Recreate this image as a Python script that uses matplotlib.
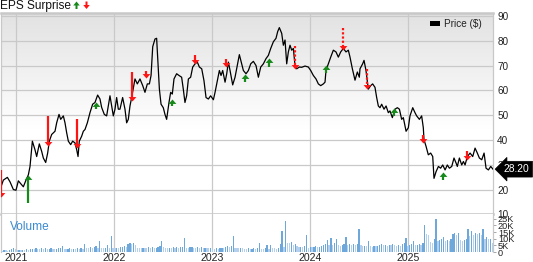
import numpy as np
import matplotlib
matplotlib.use("Agg")
import matplotlib.pyplot as plt
from matplotlib.colors import LinearSegmentedColormap
from matplotlib.patches import FancyArrow, Rectangle
from matplotlib.transforms import blended_transform_factory

plt.rcParams['font.family'] = ['Liberation Sans', 'DejaVu Sans']

# ---------------- data ----------------
price_t = [2020.847, 2020.871, 2020.912, 2020.939, 2020.973, 2021.000, 2021.024, 2021.048, 2021.075, 2021.102,
           2021.126, 2021.143, 2021.167, 2021.194, 2021.211, 2021.238, 2021.262, 2021.279, 2021.303, 2021.323,
           2021.340, 2021.364, 2021.398, 2021.415, 2021.439, 2021.456, 2021.483, 2021.500, 2021.517, 2021.534,
           2021.558, 2021.578, 2021.602, 2021.619, 2021.633, 2021.646, 2021.670, 2021.687, 2021.704, 2021.728,
           2021.755, 2021.782, 2021.806, 2021.833, 2021.857, 2021.874, 2021.901, 2021.925, 2021.942, 2021.959,
           2021.976, 2021.993, 2022.010, 2022.027, 2022.044,
           2022.061, 2022.088, 2022.112, 2022.129, 2022.146, 2022.163, 2022.180, 2022.214, 2022.238, 2022.265,
           2022.293, 2022.316, 2022.340, 2022.361, 2022.378, 2022.395, 2022.418, 2022.435, 2022.446, 2022.463,
           2022.480, 2022.503, 2022.520, 2022.537, 2022.561, 2022.578, 2022.595, 2022.612, 2022.639, 2022.663,
           2022.690, 2022.707, 2022.724, 2022.741, 2022.759, 2022.782, 2022.803, 2022.827, 2022.850, 2022.871,
           2022.895, 2022.918, 2022.939, 2022.963, 2022.986, 2023.014, 2023.031, 2023.054, 2023.075, 2023.092,
           2023.109, 2023.133, 2023.150, 2023.167, 2023.184, 2023.211, 2023.235, 2023.259, 2023.279,
           2023.303, 2023.320, 2023.347, 2023.371, 2023.395, 2023.422, 2023.449, 2023.473, 2023.497, 2023.524,
           2023.551, 2023.575, 2023.599, 2023.626, 2023.653, 2023.670, 2023.687, 2023.711, 2023.728, 2023.745,
           2023.762, 2023.779, 2023.796, 2023.813, 2023.830, 2023.847, 2023.864, 2023.891, 2023.915, 2023.949,
           2023.983, 2024.007, 2024.034, 2024.061, 2024.085, 2024.109, 2024.136, 2024.153, 2024.163, 2024.187,
           2024.211, 2024.238, 2024.265, 2024.289, 2024.313, 2024.340, 2024.367, 2024.391, 2024.408, 2024.432,
           2024.459, 2024.483, 2024.503,
           2024.510, 2024.537, 2024.551, 2024.571, 2024.595, 2024.619, 2024.639, 2024.663, 2024.680, 2024.697,
           2024.714, 2024.731, 2024.755, 2024.776, 2024.799, 2024.816, 2024.840, 2024.867, 2024.891, 2024.912,
           2024.935, 2024.952, 2024.980, 2025.003, 2025.020, 2025.048, 2025.071, 2025.088, 2025.116, 2025.139,
           2025.156, 2025.163, 2025.184, 2025.207, 2025.231, 2025.252, 2025.265, 2025.286, 2025.310, 2025.333,
           2025.354, 2025.378, 2025.401, 2025.422, 2025.446, 2025.469, 2025.490, 2025.503, 2025.524, 2025.548,
           2025.565, 2025.582, 2025.605, 2025.633, 2025.660, 2025.684, 2025.707, 2025.728, 2025.752, 2025.776,
           2025.796, 2025.820, 2025.844, 2025.867]

price = [21.1, 23.8, 24.9, 23.1, 20.0, 19.7, 23.5, 22.4, 21.1, 23.8,
         25.9, 29.3, 39.5, 36.0, 33.3, 38.4, 35.4, 32.7, 30.9, 34.7,
         39.5, 42.2, 43.5, 46.9, 50.3, 48.3, 49.7, 46.9, 42.9, 39.5,
         38.1, 39.5, 38.8, 36.1, 33.3, 39.5, 41.5, 43.5, 44.2, 46.9,
         51.0, 54.4, 55.1, 58.1, 56.5, 53.1, 50.3, 49.7, 53.7, 57.8,
         53.7, 49.7, 52.4, 57.1, 52.4,
         52.4, 57.1, 52.4, 46.9, 48.3, 53.7, 57.1, 64.6, 62.6, 64.6,
         61.9, 59.2, 62.6, 62.6, 66.0, 77.6, 80.7, 81.0, 72.8, 60.5,
         54.4, 53.0, 50.3, 48.3, 55.1, 59.2, 58.5, 64.6, 66.7, 66.0,
         65.3, 60.5, 55.1, 57.8, 64.6, 65.3, 69.4, 70.7, 71.4, 69.4,
         68.7, 63.9, 57.1, 56.5, 57.8, 56.2, 59.2, 63.9, 68.0, 66.0,
         68.0, 63.3, 66.7, 71.4, 68.0, 62.2, 65.3, 70.3, 74.4,
         70.7, 68.0, 66.7, 68.0, 70.7, 71.7, 70.0, 65.3, 69.4, 70.7,
         72.8, 74.1, 76.9, 79.6, 81.0, 83.7, 85.3, 83.0, 78.2, 80.3,
         70.7, 75.5, 78.2, 76.2, 76.9, 70.0, 68.7, 69.4, 69.3, 69.8,
         69.4, 68.0, 66.0, 64.6, 62.6, 61.9, 62.6, 63.3, 68.0, 70.7,
         73.4, 76.2, 75.5, 73.4, 75.5, 76.9, 75.5, 76.2, 73.4, 68.7,
         64.1, 67.4, 65.3,
         68.7, 70.7, 72.1, 68.0, 60.5, 61.9, 62.6, 61.2, 57.1, 53.7,
         53.0, 54.4, 52.4, 53.7, 51.0, 51.7, 49.0, 52.4, 53.0, 52.4,
         48.3, 49.0, 43.5, 44.9, 49.7, 53.0, 51.0, 49.7, 48.3, 49.7,
         44.9, 40.1, 37.4, 34.0, 34.7, 33.3, 24.5, 27.2, 29.3, 28.6,
         29.9, 27.9, 29.9, 28.6, 29.3, 32.7, 30.7, 29.3, 32.7, 29.9,
         31.3, 29.9, 33.3, 34.7, 33.3, 36.7, 34.7, 32.7, 32.0, 34.7,
         28.6, 27.9, 29.3, 28.2]

last_price = 28.20

# EPS surprise arrows: date, direction, tail price, tip price, dotted shaft
eps_t = [2020.850, 2021.126, 2021.330, 2021.620, 2021.820, 2022.180, 2022.330, 2022.590, 2022.830, 2023.140,
         2023.337, 2023.585, 2023.847, 2024.163, 2024.340, 2024.585, 2024.857, 2025.156, 2025.354, 2025.605]
eps_dir = ['down', 'up', 'down', 'down', 'up', 'down', 'down', 'up', 'down', 'down',
           'up', 'up', 'down', 'up', 'down', 'down', 'up', 'down', 'up', 'down']
eps_tail = [27.9, 14.5, 49.7, 48.3, 52.4, 67.3, 68.0, 53.5, 74.1, 72.8,
            63.5, 69.5, 78.0, 67.0, 85.3, 68.7, 49.7, 41.8, 23.8, 35.4]
eps_tip = [17.0, 26.0, 37.7, 36.7, 55.4, 55.8, 64.9, 56.7, 70.7, 69.4,
           66.7, 72.9, 68.7, 70.3, 76.2, 60.5, 53.0, 38.8, 26.9, 32.0]
eps_dotted = [False, False, False, False, False, False, False, False, False, False,
              False, False, True, False, True, True, False, False, False, False]

# weekly volume (thousands), first week starting at 2020.84
vol_start = 2020.84
volume = [1.2, 1.0, 1.5, 1.2, 1.0, 1.3, 2.5, 2.8, 2.2, 1.6,
          1.8, 1.5, 1.7, 1.4, 1.9, 1.6, 2.3, 2.6, 2.4, 2.8,
          2.5, 2.2, 2.7, 2.4, 2.9, 2.3, 2.6, 3.0, 2.5, 2.4,
          2.6, 2.8, 3.2, 4.2, 2.6, 2.3, 2.5, 2.8, 2.4, 2.6,
          2.3, 2.7, 2.5, 2.9, 2.6, 6.0, 3.0, 2.8, 3.4, 3.0,
          3.5, 4.5, 2.8, 8.0, 3.2, 2.9, 3.3, 5.0, 3.0, 12.0,
          3.1, 2.8, 3.3, 3.0, 3.5, 4.0, 4.3, 3.8, 6.0, 6.5,
          6.2, 7.0, 5.5, 3.2, 3.0, 2.8, 3.3, 3.1, 2.9, 3.4,
          3.2, 3.6, 3.0, 3.3, 3.8, 4.2, 8.0, 4.0, 3.2, 3.0,
          3.3, 2.9, 3.5, 3.1, 3.4, 3.0, 3.6, 4.0, 10.5, 3.2,
          3.0, 3.4, 3.8, 3.1, 2.9, 3.5, 3.2, 3.8, 2.8, 3.3,
          3.0, 2.7, 3.1, 2.6, 2.4, 2.8, 2.5, 2.9, 3.3, 3.0,
          4.0, 4.5, 3.8, 4.2, 12.0, 3.3, 3.0, 2.9, 3.2, 2.8,
          2.5, 2.2, 2.8, 2.4, 2.6, 3.3, 2.5, 2.9, 7.0, 2.6,
          2.4, 2.8, 5.0, 2.6, 5.0, 3.0, 2.7, 2.5, 3.2, 6.0,
          16.0, 4.0, 23.0, 7.0, 6.8, 7.5, 5.5, 5.8, 4.2, 3.8,
          4.0, 3.5, 4.5, 12.5, 3.0, 3.6, 3.4, 3.8, 4.2, 3.5,
          4.0, 4.5, 5.0, 6.0, 9.0, 5.5, 10.5, 5.0, 6.5, 10.0,
          5.5, 4.8, 5.2, 6.0, 11.0, 5.5, 6.0, 5.0, 5.8, 5.2,
          6.0, 17.0, 5.0, 4.5, 4.8, 4.2, 8.0, 4.5, 3.8, 4.6,
          4.2, 4.8, 5.5, 6.0, 5.0, 5.2, 4.8, 5.5, 5.0, 6.0,
          5.5, 4.8, 5.2, 4.6, 6.0, 6.5, 10.5, 4.5, 5.5, 6.0,
          8.0, 5.0, 5.5, 6.0, 5.5, 6.5, 20.0, 13.5, 13.0, 7.5,
          7.0, 9.5, 24.5, 8.0, 9.0, 10.0, 11.0, 8.5, 9.0, 8.0,
          9.5, 13.5, 14.0, 13.0, 14.5, 9.0, 8.5, 9.0, 9.5, 17.0,
          12.0, 15.5, 12.5, 14.0, 13.5, 14.5, 13.0, 17.5, 10.0, 11.0,
          9.5, 10.0, 7.0]

years = [2021, 2022, 2023, 2024, 2025]
price_ticks = [10, 20, 30, 40, 50, 60, 70, 80, 90]
vol_ticks = [0, 5, 10, 15, 20, 25]
vol_labels = ['0', '5K', '10K', '15K', '20K', '25K']

# ---------------- figure ----------------
W, H = 533, 262
fig = plt.figure(figsize=(W / 100, H / 100), dpi=100)
fig.patch.set_facecolor('white')

top_px, sep_px, bot_px = 13, 214.3, 252
left_px, right_px = 1, 493
ax = fig.add_axes([left_px / W, 1 - sep_px / H, (right_px - left_px) / W, (sep_px - top_px) / H])
axv = fig.add_axes([left_px / W, 1 - bot_px / H, (right_px - left_px) / W, (bot_px - sep_px) / H], sharex=ax)

xmin, xmax = 2020.847, 2025.867
ymin, ymax = 10, 91.2
ax.set_xlim(xmin, xmax)
ax.set_ylim(ymin, ymax)

# background gradient
frac = np.linspace(0, 1, 200)[:, None]
grad = np.clip((frac - 0.42) / 0.58, 0, 1)
cmap = LinearSegmentedColormap.from_list('bg', ['#ffffff', '#e2e2e2'])
ax.imshow(grad, extent=[xmin, xmax, ymin, ymax], origin='lower', aspect='auto',
          cmap=cmap, vmin=0, vmax=1, zorder=0, interpolation='bilinear')

grid_c = '#c9c9c9'
for y in price_ticks:
    ax.axhline(y, color=grid_c, lw=0.9, zorder=1)
for yr in years:
    ax.axvline(yr, color=grid_c, lw=0.9, zorder=1)
    axv.axvline(yr, color=grid_c, lw=0.9, zorder=0)

ax.plot(price_t, price, color='black', lw=0.9, zorder=3, solid_joinstyle='round')

# EPS arrows
green, red = '#16891a', '#ff1414'
down_head = [(0, 0), (-0.875, 1), (0.875, 1)]
up_head = [(0, 0), (-0.875, -1), (0.875, -1)]
head_units = 1.3
for t, d, tail, tip, dotted in zip(eps_t, eps_dir, eps_tail, eps_tip, eps_dotted):
    c = red if d == 'down' else green
    sgn = 1 if d == 'down' else -1
    ls = (0, (1.0, 0.9)) if dotted else '-'
    ax.plot([t, t], [tail, tip + sgn * head_units], color=c, lw=1.6, ls=ls,
            solid_capstyle='butt', dash_capstyle='butt', zorder=4)
    ax.plot([t], [tip], marker=down_head if d == 'down' else up_head, ms=6.4,
            color=c, mew=0, zorder=5, ls='none')

# axes styling
for s in ['top', 'left', 'right', 'bottom']:
    ax.spines[s].set_color('#c8c8c8')
    ax.spines[s].set_linewidth(0.9)
ax.spines['top'].set_linewidth(1.8)
ax.spines['bottom'].set_linewidth(1.8)
ax.yaxis.tick_right()
ax.set_yticks(price_ticks)
ax.set_yticklabels([str(v) for v in price_ticks])
ax.tick_params(axis='y', length=0, pad=3, labelsize=7.2, labelcolor='#222222')
ax.tick_params(axis='x', length=0, labelbottom=False)
ax.set_xticks(years)

# legend
fig.add_artist(Rectangle((429.5 / W, 1 - 25.5 / H), 10.5 / W, 4 / H, transform=fig.transFigure,
                         facecolor='black', edgecolor='none'))
fig.text(444.5 / W, 1 - 24 / H, 'Price ($)', fontsize=7.2, va='center', ha='left', color='#222222')

# last price badge
btr = blended_transform_factory(ax.transAxes, ax.transData)
ax.text(1.022, last_price, f'{last_price:.2f}', transform=btr, ha='left', va='center',
        color='white', fontsize=7.4, zorder=10, clip_on=False,
        bbox=dict(boxstyle='larrow,pad=0.28', fc='black', ec='black', lw=0.5))

# volume panel
colors = ['#6ea7da' if (i > 0 and volume[i] >= volume[i - 1]) else '#b3d1ee' for i in range(len(volume))]
vol_t = vol_start + np.arange(len(volume)) / 52.18
axv.bar(vol_t, volume, width=0.0125, color=colors, linewidth=0, zorder=2)
axv.set_ylim(0, 28.3)
axv.set_xlim(xmin, xmax)
for s in ['top', 'bottom']:
    axv.spines[s].set_visible(False)
for s in ['left', 'right']:
    axv.spines[s].set_color('#c8c8c8')
    axv.spines[s].set_linewidth(0.9)
axv.yaxis.tick_right()
axv.set_yticks(vol_ticks)
axv.set_yticklabels(vol_labels)
axv.tick_params(axis='y', length=2.5, width=0.6, color='#999999', pad=1, labelsize=6.6, labelcolor='#222222')
axv.set_xticks(years)
axv.set_xticklabels([str(y) for y in years])
axv.tick_params(axis='x', length=0, pad=0.6, labelsize=7.6, labelcolor='#222222')
axv.text(0.019, 0.67, 'Volume', transform=axv.transAxes, color='#3a8ad0', fontsize=8.6,
         ha='left', va='center')

# title "EPS Surprise" with arrow glyphs
fig.text(0.5 / W, 1 - 5.5 / H, 'EPS Surprise', fontsize=8.6, va='center', ha='left', color='#111111')
dpi = fig.dpi
fig.add_artist(FancyArrow(76.5 / dpi, (H - 9) / dpi, 0, 7.5 / dpi, width=2 / dpi, head_width=6.5 / dpi,
                          head_length=4 / dpi, length_includes_head=True, color=green,
                          transform=fig.dpi_scale_trans, lw=0))
fig.add_artist(FancyArrow(86.5 / dpi, (H - 1.5) / dpi, 0, -7.5 / dpi, width=2 / dpi, head_width=6.5 / dpi,
                          head_length=4 / dpi, length_includes_head=True, color=red,
                          transform=fig.dpi_scale_trans, lw=0))

fig.savefig('out.png', dpi=100)
